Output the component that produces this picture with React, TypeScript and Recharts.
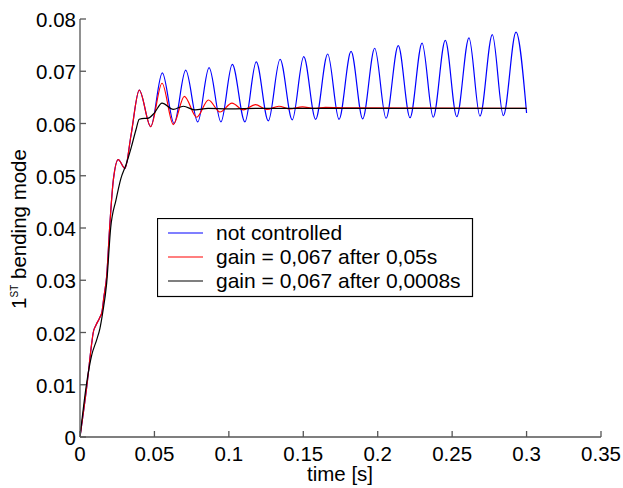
import React from 'react';
import { LineChart, Line, XAxis, YAxis, Legend } from 'recharts';

// Shared response of the plant before the controller starts (identical for blue & red)
const earlyT = [0, 0.0047, 0.0079, 0.0089, 0.0107, 0.013, 0.0148, 0.0161, 0.0179, 0.0199, 0.0224, 0.0257, 0.0302, 0.0343, 0.0398, 0.0475];
const earlyV = [0, 0.01, 0.018, 0.02, 0.0214, 0.0227, 0.024, 0.0269, 0.0307, 0.04, 0.0492, 0.0531, 0.0514, 0.0578, 0.0664, 0.0594];

// not controlled (after 0.05 s)
const blueT = [0.0553, 0.0632, 0.071, 0.0791, 0.0867, 0.0947, 0.1023, 0.1108, 0.1184, 0.1265, 0.1344, 0.1426, 0.1503, 0.1583, 0.1664, 0.174, 0.1821, 0.1899, 0.198, 0.2056, 0.2138, 0.2217, 0.2298, 0.2373, 0.2454, 0.2531, 0.2613, 0.2687, 0.277, 0.2844, 0.2929, 0.3];
const blueV = [0.0697, 0.06, 0.0702, 0.0603, 0.0707, 0.0603, 0.0713, 0.0603, 0.0718, 0.0605, 0.0723, 0.0607, 0.0728, 0.0608, 0.0733, 0.0608, 0.0738, 0.0609, 0.0744, 0.061, 0.0749, 0.0611, 0.0754, 0.0612, 0.0759, 0.0613, 0.0764, 0.0614, 0.077, 0.0615, 0.0775, 0.062];

// gain = 0,067 after 0,05s
const redT = [0.0551, 0.0627, 0.0701, 0.0784, 0.0863, 0.094, 0.1021, 0.1097, 0.1178, 0.1254, 0.1336, 0.141, 0.1495, 0.157, 0.165, 0.18, 0.3];
const redV = [0.0677, 0.0598, 0.0652, 0.0612, 0.0645, 0.0622, 0.0639, 0.0626, 0.0636, 0.0627, 0.0633, 0.0628, 0.0632, 0.0629, 0.0631, 0.063, 0.0629];

// gain = 0,067 after 0,0008s
const blackT = [0, 0.0043, 0.0079, 0.0112, 0.0134, 0.0152, 0.0179, 0.0206, 0.0242, 0.0275, 0.0309, 0.0343, 0.0376, 0.0398, 0.0432, 0.0455, 0.0499, 0.0551, 0.0627, 0.0694, 0.0773, 0.086, 0.1, 0.12, 0.3];
const blackV = [0, 0.01, 0.0157, 0.0186, 0.0208, 0.0237, 0.0294, 0.04, 0.0454, 0.0495, 0.0521, 0.0553, 0.0588, 0.0608, 0.061, 0.061, 0.062, 0.0639, 0.0627, 0.0633, 0.0626, 0.0629, 0.0628, 0.0629, 0.0629];

const xTicks = [0, 0.05, 0.1, 0.15, 0.2, 0.25, 0.3, 0.35];
const xTickLabels = ['0', '0.05', '0.1', '0.15', '0.2', '0.25', '0.3', '0.35'];
const yTicks = [0, 0.01, 0.02, 0.03, 0.04, 0.05, 0.06, 0.07, 0.08];
const yTickLabels = ['0', '0.01', '0.02', '0.03', '0.04', '0.05', '0.06', '0.07', '0.08'];

const seriesNames = ['not controlled', 'gain = 0,067 after 0,05s', 'gain = 0,067 after 0,0008s'];
const seriesColors = ['#0000ff', '#ff0000', '#000000'];

const toPoints = (ts: number[], vs: number[]) => ts.map((t, i) => ({ t, v: vs[i] }));
const blueData = toPoints([...earlyT, ...blueT], [...earlyV, ...blueV]);
const redData = toPoints([...earlyT, ...redT], [...earlyV, ...redV]);
const blackData = toPoints(blackT, blackV);

const FONT = '"Liberation Sans", Arial, Helvetica, sans-serif';
const AXIS = '#555555';

const YTick = (props: any) => {
  const { x, y, payload } = props;
  const idx = yTicks.indexOf(payload.value);
  return (
    <g>
      <line x1={x + 4} x2={x + 10} y1={y} y2={y} stroke={AXIS} strokeWidth={1.3} />
      <text x={x} y={y + 8} textAnchor="end" fontSize={20.5} fontFamily={FONT} fill="#000">
        {idx >= 0 ? yTickLabels[idx] : String(payload.value)}
      </text>
    </g>
  );
};

const XTick = (props: any) => {
  const { x, y, payload } = props;
  const idx = xTicks.indexOf(payload.value);
  return (
    <g>
      <line x1={x} x2={x} y1={y} y2={y - 6} stroke={AXIS} strokeWidth={1.3} />
      <text x={x} y={y + 24} textAnchor="middle" fontSize={20.5} fontFamily={FONT} fill="#000">
        {idx >= 0 ? xTickLabels[idx] : String(payload.value)}
      </text>
    </g>
  );
};

const XLabel = () => (
  <text x={340} y={481} textAnchor="middle" fontSize={20.5} fontFamily={FONT} fill="#000">time [s]</text>
);

const YLabel = () => (
  <text x={26} y={229} transform="rotate(-90 26 229)" textAnchor="middle" fontSize={20.5} fontFamily={FONT} fill="#000">
    1<tspan fontSize={10} dy={-8}>ST</tspan><tspan dy={8}> bending mode</tspan>
  </text>
);

const renderLegend = () => (
  <svg width={317} height={80} style={{ display: 'block' }}>
    <rect x={0.5} y={0.5} width={315} height={78} fill="#fff" stroke="#000" strokeWidth={1.2} />
    {seriesNames.map((name, i) => (
      <g key={name}>
        <line x1={11} x2={46} y1={15 + i * 24} y2={15 + i * 24} stroke={seriesColors[i]} strokeWidth={1.2} />
        <text x={59} y={21.5 + i * 24} fontSize={21} fontFamily={FONT} fill="#000">{name}</text>
      </g>
    ))}
  </svg>
);

export default function App() {
  return (
    <div style={{ position: 'absolute', left: 0, top: 0, background: '#fff' }}>
      <LineChart width={623} height={488} margin={{ top: 19, right: 22, bottom: 0, left: 0 }}>
        <XAxis
          type="number"
          dataKey="t"
          domain={[0, 0.35]}
          ticks={xTicks}
          interval={0}
          height={51}
          tickSize={0}
          tickMargin={0}
          tick={<XTick />}
          axisLine={{ stroke: AXIS, strokeWidth: 1.3 }}
          tickLine={false}
          allowDataOverflow
          label={{ content: <XLabel /> }}
        />
        <YAxis
          type="number"
          dataKey="v"
          domain={[0, 0.08]}
          ticks={yTicks}
          interval={0}
          width={80}
          tickSize={0}
          tickMargin={4}
          tick={<YTick />}
          axisLine={{ stroke: AXIS, strokeWidth: 1.3 }}
          tickLine={false}
          allowDataOverflow
          label={{ content: <YLabel /> }}
        />
        <Legend
          layout="horizontal"
          verticalAlign="middle"
          align="center"
          content={renderLegend}
          wrapperStyle={{ left: 157, top: 218, width: 317, height: 80 }}
        />
        <Line data={blueData} dataKey="v" name={seriesNames[0]} type="monotone" stroke={seriesColors[0]} strokeWidth={1.2} dot={false} activeDot={false} isAnimationActive={false} />
        <Line data={redData} dataKey="v" name={seriesNames[1]} type="monotone" stroke={seriesColors[1]} strokeWidth={1.2} dot={false} activeDot={false} isAnimationActive={false} />
        <Line data={blackData} dataKey="v" name={seriesNames[2]} type="monotone" stroke={seriesColors[2]} strokeWidth={1.2} dot={false} activeDot={false} isAnimationActive={false} />
      </LineChart>
    </div>
  );
}
